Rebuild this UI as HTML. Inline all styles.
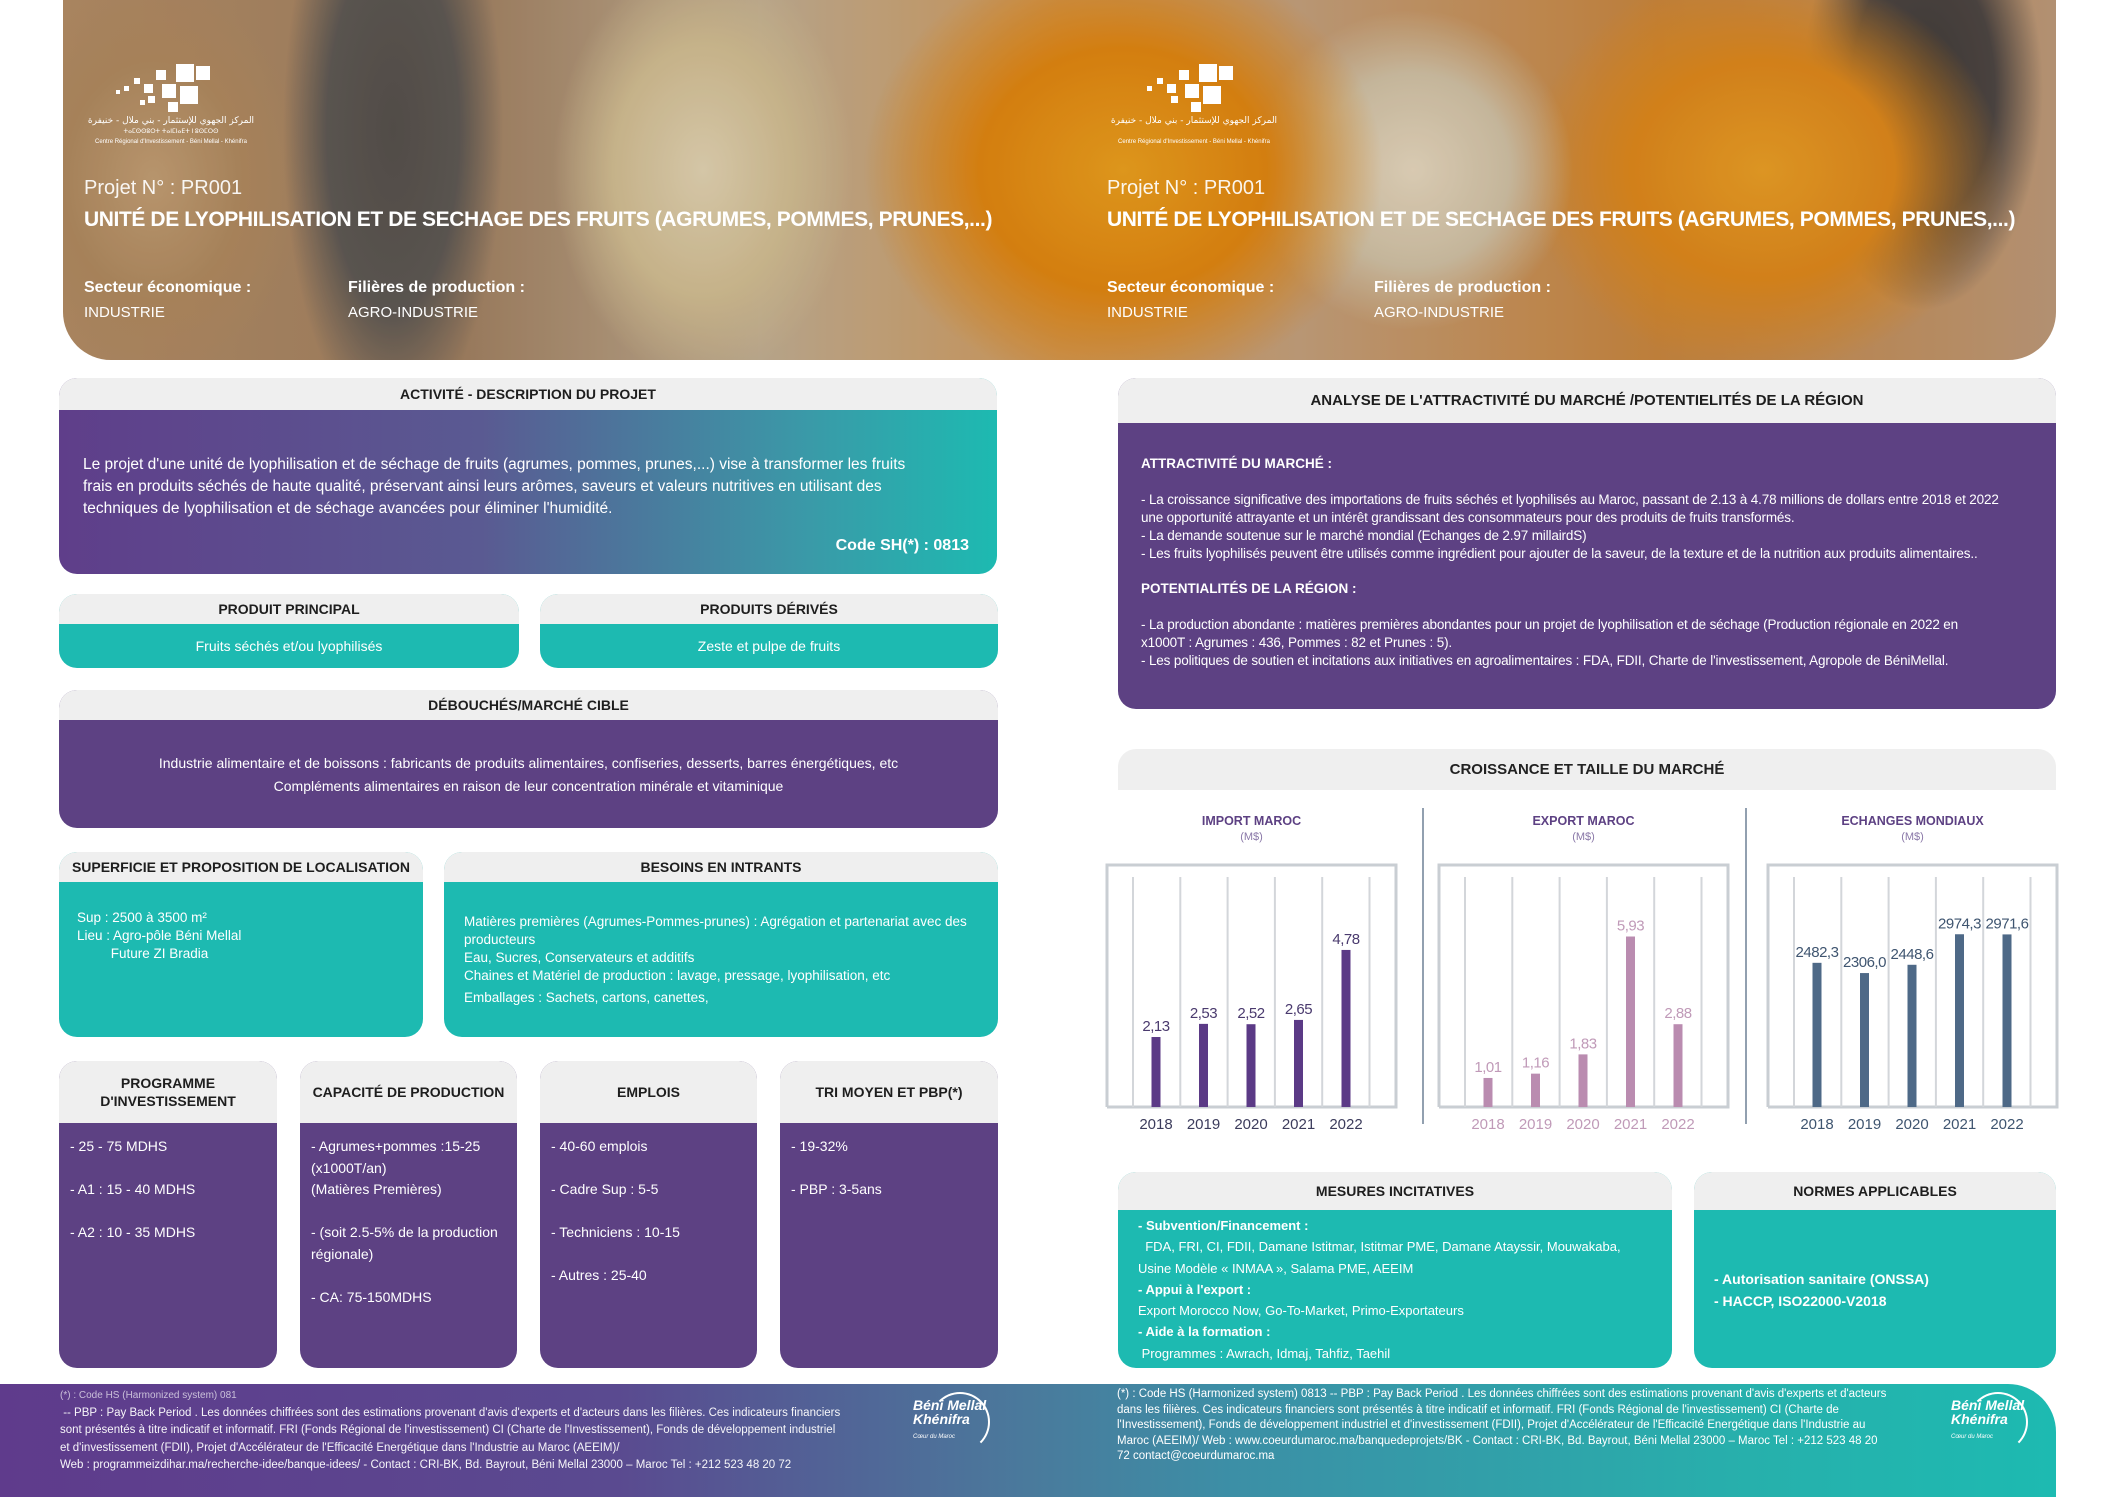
<!DOCTYPE html>
<html><head><meta charset="utf-8">
<style>
*{box-sizing:border-box;margin:0;padding:0}
body{width:2117px;height:1497px;position:relative;background:#fff;font-family:"Liberation Sans","DejaVu Sans",sans-serif;overflow:hidden;color:#222}
.abs{position:absolute}
.panel{position:absolute;border-radius:18px;overflow:hidden;background:#1dbab1}
.hd{position:absolute;left:0;top:0;width:100%;background:#efefef;color:#1e1e1e;font-weight:bold;text-align:center;font-size:14px;display:flex;align-items:center;justify-content:center}
.purple{background:#5d4183}
.teal{background:#1dbab1}
.wt{color:#fff;position:absolute;white-space:nowrap}
.t{position:absolute;white-space:nowrap}
</style></head>
<body>
<!-- HEADER -->
<div class="abs" style="left:63px;top:0;width:1993px;height:360px;border-radius:0 0 48px 48px;overflow:hidden;
background:
radial-gradient(ellipse 110px 300px at 330px 130px,#55514f 0,#5e5a58 60%,rgba(90,85,80,0) 100%),
radial-gradient(ellipse 150px 210px at 640px 170px,#eadcbc 0,#d9c59a 60%,rgba(220,200,160,0) 100%),
radial-gradient(ellipse 260px 220px at 1060px 170px,#f4a51e 0,#e98a10 55%,rgba(230,130,20,0) 100%),
radial-gradient(ellipse 160px 160px at 1350px 170px,#eee0c8 0,#d8c9ae 60%,rgba(210,190,160,0) 100%),
radial-gradient(ellipse 240px 200px at 1700px 170px,#f3a426 0,#e68c1c 55%,rgba(220,130,30,0) 100%),
radial-gradient(ellipse 120px 220px at 1860px 90px,#3e3a3a 0,#4c4646 60%,rgba(70,65,65,0) 100%),
radial-gradient(ellipse 150px 200px at 90px 180px,#c9a47a 0,#b58e64 60%,rgba(180,140,100,0) 100%),
linear-gradient(90deg,#b9916a 0,#a58466 20%,#c7b49a 35%,#d9a060 50%,#caa582 62%,#d08a40 80%,#c39f80 100%);">
  <div class="abs" style="left:0;top:0;width:100%;height:100%;background:rgba(60,40,20,0.12)"></div>
</div>
<!-- logos -->
<div class="abs" style="left:84px;top:60px;width:175px;height:85px">
  <svg width="175" height="85" viewBox="0 0 175 85">
    <g fill="#fff">
      <rect x="92" y="4" width="18" height="18"/><rect x="112" y="6" width="14" height="14"/><rect x="72" y="10" width="10" height="10"/>
      <rect x="78" y="24" width="14" height="14"/><rect x="96" y="26" width="18" height="18"/><rect x="60" y="24" width="9" height="9"/>
      <rect x="50" y="18" width="6" height="6"/><rect x="40" y="26" width="5" height="5"/><rect x="84" y="42" width="10" height="10"/>
      <rect x="64" y="36" width="7" height="7"/><rect x="32" y="30" width="4" height="4"/><rect x="56" y="40" width="5" height="5"/>
    </g>
    <text x="87" y="63" fill="#fff" font-size="9" text-anchor="middle" font-family="DejaVu Sans,sans-serif">المركز الجهوي للإستثمار - بني ملال - خنيفرة</text>
    <text x="87" y="73" fill="#fff" font-size="6" text-anchor="middle">ⵜⴰⵎⵙⵙⵓⵔⵜ ⵜⴰⵏⵎⵏⴰⴹⵜ ⵏ ⵓⵙⵎⵔⵙ</text>
    <text x="87" y="83" fill="#fff" font-size="6" text-anchor="middle">Centre Régional d'Investissement - Béni Mellal - Khénifra</text>
  </svg>
</div>
<div class="abs" style="left:1107px;top:60px;width:175px;height:85px">
  <svg width="175" height="85" viewBox="0 0 175 85">
    <g fill="#fff">
      <rect x="92" y="4" width="18" height="18"/><rect x="112" y="6" width="14" height="14"/><rect x="72" y="10" width="10" height="10"/>
      <rect x="78" y="24" width="14" height="14"/><rect x="96" y="26" width="18" height="18"/><rect x="60" y="24" width="9" height="9"/>
      <rect x="50" y="18" width="6" height="6"/><rect x="40" y="26" width="5" height="5"/><rect x="84" y="42" width="10" height="10"/>
      <rect x="64" y="36" width="7" height="7"/>
    </g>
    <text x="87" y="63" fill="#fff" font-size="9" text-anchor="middle" font-family="DejaVu Sans,sans-serif">المركز الجهوي للإستثمار - بني ملال - خنيفرة</text>
    <text x="87" y="83" fill="#fff" font-size="6" text-anchor="middle">Centre Régional d'Investissement - Béni Mellal - Khénifra</text>
  </svg>
</div>
<div class="wt" style="left:84px;top:177px;font-size:20px;font-weight:300;opacity:.92">Projet N° :  PR001</div>
<div class="wt" style="left:84px;top:208px;font-size:21px;font-weight:bold;letter-spacing:-0.4px">UNITÉ DE LYOPHILISATION ET DE SECHAGE DES FRUITS (AGRUMES, POMMES, PRUNES,...)</div>
<div class="wt" style="left:84px;top:279px;font-size:16px;font-weight:bold">Secteur économique :</div>
<div class="wt" style="left:84px;top:304px;font-size:15px">INDUSTRIE</div>
<div class="wt" style="left:348px;top:279px;font-size:16px;font-weight:bold">Filières de production :</div>
<div class="wt" style="left:348px;top:304px;font-size:15px">AGRO-INDUSTRIE</div>
<div class="wt" style="left:1107px;top:177px;font-size:20px;font-weight:300;opacity:.92">Projet N° :  PR001</div>
<div class="wt" style="left:1107px;top:208px;font-size:21px;font-weight:bold;letter-spacing:-0.4px">UNITÉ DE LYOPHILISATION ET DE SECHAGE DES FRUITS (AGRUMES, POMMES, PRUNES,...)</div>
<div class="wt" style="left:1107px;top:279px;font-size:16px;font-weight:bold">Secteur économique :</div>
<div class="wt" style="left:1107px;top:304px;font-size:15px">INDUSTRIE</div>
<div class="wt" style="left:1374px;top:279px;font-size:16px;font-weight:bold">Filières de production :</div>
<div class="wt" style="left:1374px;top:304px;font-size:15px">AGRO-INDUSTRIE</div>

<!-- ACTIVITE -->
<div class="panel" style="left:59px;top:378px;width:938px;height:196px;background:linear-gradient(90deg,#5f3e8a 0%,#5a5a92 45%,#3a9aa8 80%,#1dbab1 100%)">
  <div class="hd" style="height:32px">ACTIVITÉ - DESCRIPTION DU PROJET</div>
  <div class="wt" style="left:24px;top:76px;font-size:15.5px;line-height:22px;white-space:normal;width:845px">Le projet d'une unité de lyophilisation et de séchage de fruits (agrumes, pommes, prunes,...) vise à transformer les fruits frais en produits séchés de haute qualité, préservant ainsi leurs arômes, saveurs et valeurs nutritives en utilisant des techniques de lyophilisation et de séchage avancées pour éliminer l'humidité.</div>
  <div class="wt" style="right:28px;top:159px;font-size:16px;font-weight:bold">Code SH(*) : 0813</div>
</div>
<div class="panel" style="left:59px;top:594px;width:460px;height:74px">
  <div class="hd" style="height:30px">PRODUIT PRINCIPAL</div>
  <div class="wt" style="left:0;width:100%;text-align:center;top:44px;font-size:14px">Fruits séchés et/ou lyophilisés</div>
</div>
<div class="panel" style="left:540px;top:594px;width:458px;height:74px">
  <div class="hd" style="height:30px">PRODUITS DÉRIVÉS</div>
  <div class="wt" style="left:0;width:100%;text-align:center;top:44px;font-size:14px">Zeste et pulpe de fruits</div>
</div>
<div class="panel purple" style="left:59px;top:690px;width:939px;height:138px">
  <div class="hd" style="height:30px">DÉBOUCHÉS/MARCHÉ CIBLE</div>
  <div class="wt" style="left:0;width:100%;text-align:center;top:62px;font-size:14px;line-height:23px">Industrie alimentaire et de boissons : fabricants de produits alimentaires, confiseries, desserts, barres énergétiques, etc<br>Compléments alimentaires en raison de leur concentration minérale et vitaminique</div>
</div>
<div class="panel" style="left:59px;top:852px;width:364px;height:185px">
  <div class="hd" style="height:30px">SUPERFICIE ET PROPOSITION DE LOCALISATION</div>
  <div class="wt" style="left:18px;top:57px;font-size:13.5px;line-height:18px">Sup : 2500 à 3500 m²<br>Lieu : Agro-pôle Béni Mellal<br>&nbsp;&nbsp;&nbsp;&nbsp;&nbsp;&nbsp;&nbsp;&nbsp;&nbsp;Future ZI Bradia</div>
</div>
<div class="panel" style="left:444px;top:852px;width:554px;height:185px">
  <div class="hd" style="height:30px">BESOINS EN INTRANTS</div>
  <div class="wt" style="left:20px;top:61px;font-size:13.5px;line-height:18px;white-space:normal;width:525px">Matières premières (Agrumes-Pommes-prunes) : Agrégation et partenariat avec des producteurs<br>Eau, Sucres, Conservateurs et additifs<br>Chaines et Matériel de production : lavage, pressage, lyophilisation, etc<br><span style="line-height:26px">Emballages : Sachets, cartons, canettes,</span></div>
</div>
<!-- four boxes -->
<div class="panel purple" style="left:59px;top:1061px;width:218px;height:307px">
  <div class="hd" style="height:62px;line-height:18px">PROGRAMME<br>D'INVESTISSEMENT</div>
  <div class="wt" style="left:11px;top:64px;font-size:14px;line-height:43px">- 25 - 75 MDHS<br>- A1 : 15 - 40 MDHS<br>- A2 : 10 - 35 MDHS</div>
</div>
<div class="panel purple" style="left:300px;top:1061px;width:217px;height:307px">
  <div class="hd" style="height:62px">CAPACITÉ DE PRODUCTION</div>
  <div class="wt" style="left:11px;top:75px;font-size:14px;line-height:21.5px">- Agrumes+pommes :15-25<br>(x1000T/an)<br>(Matières Premières)<br><br>- (soit 2.5-5% de la production<br>régionale)<br><br>-  CA: 75-150MDHS</div>
</div>
<div class="panel purple" style="left:540px;top:1061px;width:217px;height:307px">
  <div class="hd" style="height:62px">EMPLOIS</div>
  <div class="wt" style="left:11px;top:64px;font-size:14px;line-height:43px">- 40-60 emplois<br>- Cadre Sup : 5-5<br>- Techniciens : 10-15<br>- Autres  : 25-40</div>
</div>
<div class="panel purple" style="left:780px;top:1061px;width:218px;height:307px">
  <div class="hd" style="height:62px">TRI MOYEN ET PBP(*)</div>
  <div class="wt" style="left:11px;top:64px;font-size:14px;line-height:43px">- 19-32%<br>- PBP : 3-5ans</div>
</div>

<!-- RIGHT: ANALYSE -->
<div class="panel purple" style="left:1118px;top:378px;width:938px;height:331px">
  <div class="hd" style="height:45px;font-size:15px">ANALYSE DE L'ATTRACTIVITÉ DU MARCHÉ /POTENTIELITÉS DE LA RÉGION</div>
  <div class="wt" style="left:23px;top:78px;font-size:13.5px;font-weight:bold">ATTRACTIVITÉ DU MARCHÉ :</div>
  <div class="wt" style="left:23px;top:113px;font-size:13.5px;line-height:18px;letter-spacing:-0.15px">- La croissance significative des importations de fruits séchés et lyophilisés au Maroc, passant de 2.13 à 4.78 millions de dollars entre 2018 et 2022<br>une opportunité attrayante et un intérêt grandissant des consommateurs pour des produits de fruits transformés.<br>- La demande soutenue sur le marché mondial (Echanges de 2.97 millairdS)<br>- Les fruits lyophilisés peuvent être utilisés comme ingrédient pour ajouter de la saveur, de la texture et de la nutrition aux produits alimentaires..</div>
  <div class="wt" style="left:23px;top:203px;font-size:13.5px;font-weight:bold">POTENTIALITÉS DE LA RÉGION :</div>
  <div class="wt" style="left:23px;top:238px;font-size:13.5px;line-height:18px;letter-spacing:-0.15px">- La production abondante : matières premières abondantes pour un projet de lyophilisation et de séchage (Production régionale en 2022 en<br>x1000T : Agrumes : 436, Pommes : 82 et Prunes : 5).<br>- Les politiques de soutien et incitations aux initiatives en agroalimentaires : FDA, FDII, Charte de l'investissement, Agropole de BéniMellal.</div>
</div>

<!-- CROISSANCE -->
<div class="abs" style="left:1118px;top:749px;width:938px;height:41px;background:#efefef;border-radius:18px 18px 0 0;font-weight:bold;font-size:15px;display:flex;align-items:center;justify-content:center">CROISSANCE ET TAILLE DU MARCHÉ</div>
<svg id="charts" class="abs" style="left:0;top:0" width="2117" height="1497"></svg>

<!-- MESURES -->
<div class="panel" style="left:1118px;top:1172px;width:554px;height:196px">
  <div class="hd" style="height:38px">MESURES INCITATIVES</div>
  <div class="wt" style="left:20px;top:43px;font-size:13px;line-height:21.3px">
    <b>- Subvention/Financement :</b><br>&nbsp;&nbsp;FDA, FRI, CI, FDII, Damane Istitmar, Istitmar PME, Damane Atayssir, Mouwakaba,<br>Usine Modèle « INMAA », Salama PME, AEEIM<br><b>- Appui à l'export  :</b><br>Export Morocco Now, Go-To-Market, Primo-Exportateurs<br><b>- Aide à la formation :</b><br>&nbsp;Programmes :  Awrach, Idmaj, Tahfiz, Taehil</div>
</div>
<div class="panel" style="left:1694px;top:1172px;width:362px;height:196px">
  <div class="hd" style="height:38px">NORMES APPLICABLES</div>
  <div class="wt" style="left:20px;top:96px;font-size:14px;line-height:22px;font-weight:bold">- Autorisation sanitaire (ONSSA)<br>- HACCP, ISO22000-V2018</div>
</div>

<!-- FOOTER -->
<div class="abs" style="left:0;top:1384px;width:2056px;height:113px;border-radius:0 48px 0 0;background:linear-gradient(90deg,#5f3b8c 0%,#5a4a90 30%,#4a7a9c 50%,#3c8fa6 60%,#27b0ac 85%,#1dbab1 100%)">
  <div class="wt" style="left:60px;top:3px;font-size:11.5px;line-height:17.5px;opacity:.95"><span style="opacity:.7;font-size:10px">(*) : Code HS (Harmonized system) 081</span><br>&nbsp;-- PBP : Pay Back Period . Les données chiffrées sont des estimations provenant d'avis d'experts et d'acteurs dans les filières. Ces indicateurs financiers<br>sont présentés à titre indicatif et informatif. FRI (Fonds Régional de l'investissement) CI (Charte de l'Investissement), Fonds de développement industriel<br>et d'investissement (FDII), Projet d'Accélérateur de l'Efficacité Energétique dans l'Industrie au Maroc (AEEIM)/<br>Web : programmeizdihar.ma/recherche-idee/banque-idees/ - Contact : CRI-BK, Bd. Bayrout, Béni Mellal 23000 – Maroc Tel : +212 523 48 20 72</div>
  <div class="wt" style="left:1117px;top:3px;font-size:11.5px;line-height:15.5px">(*) : Code HS (Harmonized system) 0813 -- PBP : Pay Back Period . Les données chiffrées sont des estimations provenant d'avis d'experts et d'acteurs<br>dans les filières. Ces indicateurs financiers sont présentés à titre indicatif et informatif. FRI (Fonds Régional de l'investissement) CI (Charte de<br>l'Investissement), Fonds de développement industriel et d'investissement (FDII), Projet d'Accélérateur de l'Efficacité Energétique dans l'Industrie au<br>Maroc (AEEIM)/ Web : www.coeurdumaroc.ma/banquedeprojets/BK - Contact : CRI-BK, Bd. Bayrout, Béni Mellal 23000 – Maroc Tel : +212 523 48 20<br>72 contact@coeurdumaroc.ma</div>
  <div class="wt" style="left:913px;top:14px;font-size:14px;font-style:italic;font-weight:bold;line-height:14px">Béni Mellal<br>Khénifra<br><span style="font-size:6px;font-weight:normal">Cœur du Maroc</span></div>
  <div class="abs" style="left:930px;top:8px;width:60px;height:60px;border:2px solid #fff;border-left-color:transparent;border-bottom-color:transparent;border-radius:50%"></div>
  <div class="wt" style="left:1951px;top:14px;font-size:14px;font-style:italic;font-weight:bold;line-height:14px">Béni Mellal<br>Khénifra<br><span style="font-size:6px;font-weight:normal">Cœur du Maroc</span></div>
  <div class="abs" style="left:1968px;top:8px;width:60px;height:60px;border:2px solid #fff;border-left-color:transparent;border-bottom-color:transparent;border-radius:50%"></div>
</div>

<script>
const years = ["2018","2019","2020","2021","2022"];
const importValues = [2.13, 2.53, 2.52, 2.65, 4.78];
const importLabels = ["2,13","2,53","2,52","2,65","4,78"];
const exportValues = [1.01, 1.16, 1.83, 5.93, 2.88];
const exportLabels = ["1,01","1,16","1,83","5,93","2,88"];
const worldValues = [2482.3, 2306.0, 2448.6, 2974.3, 2971.6];
const worldLabels = ["2482,3","2306,0","2448,6","2974,3","2971,6"];

const NS = "http://www.w3.org/2000/svg";
const svg = document.getElementById("charts");
function mk(tag, attrs, text){
  const e = document.createElementNS(NS, tag);
  for (const k in attrs) e.setAttribute(k, attrs[k]);
  if (text !== undefined) e.textContent = text;
  svg.appendChild(e);
  return e;
}
function drawChart(cfg){
  const fx = cfg.x, fw = 289, top = 865, base = 1107;
  const plotH = base - top - 12;
  const y = v => base - (v / cfg.max) * plotH;
  const xc = i => fx + 49 + i * 47.5;
  const t1 = mk("text",{x:fx+fw/2,y:825,"text-anchor":"middle","font-size":"12.5","font-weight":"bold",fill:"#5d4183","font-family":"Liberation Sans, sans-serif"},cfg.title);
  
  
  const t2 = mk("text",{x:fx+fw/2,y:840,"text-anchor":"middle","font-size":"11",fill:"#8a78a8","font-family":"Liberation Sans, sans-serif"},"(M$)");
  
  
  const fr = mk("path",{d:`M${fx} ${base} V${top} H${fx+fw} V${base} H${fx}`,fill:"none",stroke:"#c9ced3","stroke-width":"3"});
  
  
  for (let g = 0; g < 6; g++){
    const gx = fx + 26 + g * 47.3;
    const gl = mk("line",{x1:gx,y1:top+12,x2:gx,y2:base,stroke:"#d3d6da","stroke-width":"2"});
    
    
  }
  cfg.values.forEach((v,i)=>{
    const b = mk("rect",{x:xc(i)-4.5,y:y(v),width:9,height:base-y(v),fill:cfg.color});
    
    
    const l = mk("text",{x:xc(i),y:y(v)-6,"text-anchor":"middle","font-size":"15",fill:cfg.labelColor,"font-family":"Liberation Sans, sans-serif","letter-spacing":"-0.5"},cfg.labels[i]);
    
    
    const yl = mk("text",{x:xc(i),y:1129,"text-anchor":"middle","font-size":"15",fill:cfg.yearColor,"font-family":"Liberation Sans, sans-serif"},years[i]);
    
    
  });
}
drawChart({x:1107,title:"IMPORT MAROC",values:importValues,labels:importLabels,max:7.0,color:"#5b3a86",labelColor:"#4a3a6e",yearColor:"#3c3c5c"});
drawChart({x:1439,title:"EXPORT MAROC",values:exportValues,labels:exportLabels,max:8.0,color:"#ba8cb0",labelColor:"#c09ab8",yearColor:"#c09ab8"});
drawChart({x:1768,title:"ECHANGES MONDIAUX",values:worldValues,labels:worldLabels,max:3960,color:"#4e6987",labelColor:"#3f5570",yearColor:"#3f5570"});
[1423,1746].forEach(sx=>{
  const s = mk("line",{x1:sx,y1:808,x2:sx,y2:1124,stroke:"#6f8196","stroke-width":"1.5"});
  
  
});
</script>
</body></html>
